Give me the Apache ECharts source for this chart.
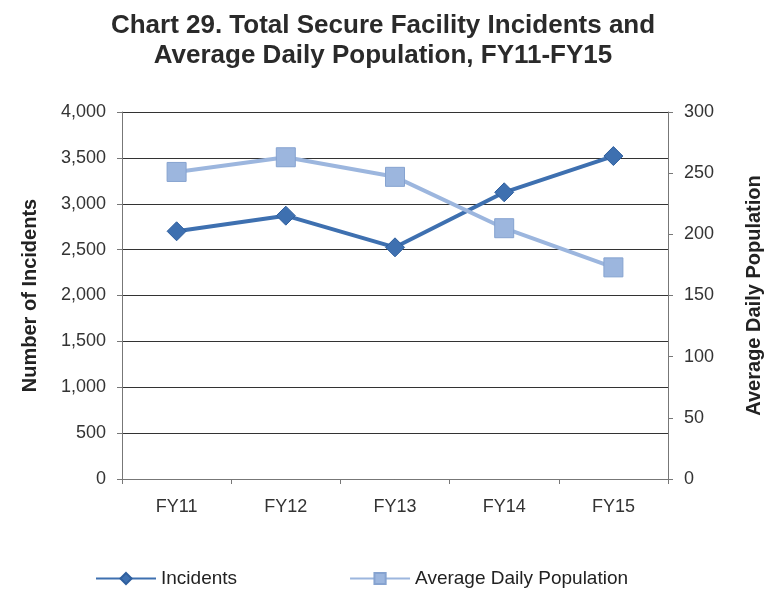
<!DOCTYPE html>
<html>
<head>
<meta charset="utf-8">
<script src="https://cdn.jsdelivr.net/npm/echarts@6/dist/echarts.min.js"></script>
<style>
  html, body { margin: 0; padding: 0; background: #fff; }
  #chart { width: 768px; height: 590px; }
</style>
</head>
<body>
<div id="chart"></div>
<script>
// data
const categories = ['FY11', 'FY12', 'FY13', 'FY14', 'FY15']
const incidents = [2700, 2870, 2525, 3125, 3520]
const avgDailyPopulation = [251, 263, 247, 205, 173]

const darkBlue = '#3e70b0'
const lightBlue = '#9cb6de'

const chart = echarts.init(document.getElementById('chart'))

const axisText = { color: '#333', fontSize: 18, fontFamily: 'Liberation Sans, Arial, sans-serif' }

chart.setOption({
  animation: false,
  title: {
    text: 'Chart 29. Total Secure Facility Incidents and\nAverage Daily Population, FY11-FY15',
    left: 378,
    top: 6,
    textAlign: 'center',
    textStyle: {
      fontSize: 26,
      fontWeight: 'bold',
      color: '#2a2a2a',
      lineHeight: 30,
      fontFamily: 'Liberation Sans, Arial, sans-serif'
    }
  },
  legend: {
    top: 564,
    left: 90,
    itemGap: 112,
    itemWidth: 60,
    itemHeight: 14,
    textStyle: { ...axisText, fontSize: 19, color: '#222' },
    data: ['Incidents', 'Average Daily Population']
  },
  grid: {
    left: 122,
    right: 100,
    top: 112,
    bottom: 111,
    outerBoundsMode: 'none'
  },
  xAxis: {
    type: 'category',
    data: categories,
    boundaryGap: true,
    axisLine: { lineStyle: { color: '#777', width: 1 } },
    axisTick: { show: true, alignWithLabel: false, length: 5, lineStyle: { color: '#777' } },
    axisLabel: { ...axisText, margin: 19 }
  },
  yAxis: [
    {
      type: 'value',
      min: 0,
      max: 4000,
      interval: 500,
      name: 'Number of Incidents',
      nameLocation: 'middle',
      nameRotate: 90,
      nameGap: 82,
      nameTextStyle: { ...axisText, fontSize: 20, fontWeight: 'bold', color: '#222' },
      axisLine: { show: true, lineStyle: { color: '#777' } },
      axisTick: { show: true, length: 5, lineStyle: { color: '#777' } },
      axisLabel: {
        ...axisText,
        margin: 16,
        formatter: v => v.toLocaleString('en-US')
      },
      splitLine: { lineStyle: { color: '#333', width: 1 } }
    },
    {
      type: 'value',
      min: 0,
      max: 300,
      interval: 50,
      name: 'Average Daily Population',
      nameLocation: 'middle',
      nameRotate: 90,
      nameGap: 76,
      nameTextStyle: { ...axisText, fontSize: 20, fontWeight: 'bold', color: '#222' },
      axisLine: { show: true, lineStyle: { color: '#777' } },
      axisTick: { show: true, length: 5, lineStyle: { color: '#777' } },
      axisLabel: { ...axisText, margin: 16 },
      splitLine: { show: false }
    }
  ],
  series: [
    {
      name: 'Incidents',
      type: 'line',
      yAxisIndex: 0,
      data: incidents,
      symbol: 'diamond',
      symbolSize: 19,
      lineStyle: { color: darkBlue, width: 4 },
      itemStyle: { color: darkBlue, borderColor: '#2f5f9e', borderWidth: 1 }
    },
    {
      name: 'Average Daily Population',
      type: 'line',
      yAxisIndex: 1,
      data: avgDailyPopulation,
      symbol: 'rect',
      symbolSize: 19,
      lineStyle: { color: lightBlue, width: 4 },
      itemStyle: { color: lightBlue, borderColor: '#86a3d0', borderWidth: 1 }
    }
  ]
})
</script>
</body>
</html>
